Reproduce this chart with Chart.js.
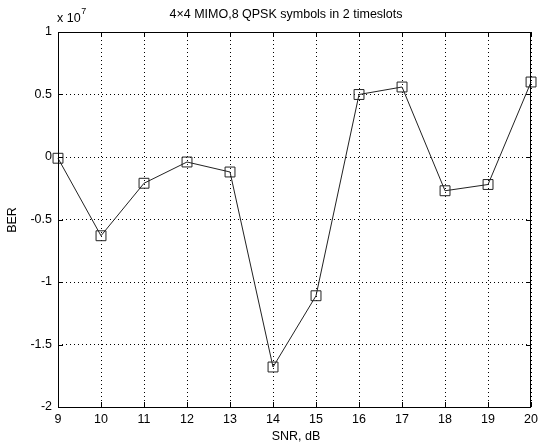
<!DOCTYPE html>
<html>
<head>
<meta charset="utf-8">
<script src="https://cdn.jsdelivr.net/npm/chart.js@4/dist/chart.umd.min.js"></script>
<style>
  html, body { margin: 0; padding: 0; background: #fff; }
  #wrap { width: 543px; height: 447px; position: relative; }
</style>
</head>
<body>
<div id="wrap"><canvas id="chart"></canvas></div>
<script>
// SNR points (dB) and BER values, in units of 1e7
const snrValues = [9, 10, 11, 12, 13, 14, 15, 16, 17, 18, 19, 20];
const berValues = [-0.01, -0.63, -0.21, -0.04, -0.12, -1.68, -1.11, 0.50, 0.56, -0.27, -0.22, 0.60];
const yTicks = [-2, -1.5, -1, -0.5, 0, 0.5, 1];
const xTicks = [9, 10, 11, 12, 13, 14, 15, 16, 17, 18, 19, 20];

const chartTitle = '4×4 MIMO,8 QPSK symbols in 2 timeslots';
const xTitle = 'SNR, dB';
const yTitle = 'BER';

const font = 'Liberation Sans, Arial, sans-serif';

// matlab style box, inward ticks and labels
const matlabFrame = {
    id: 'matlabFrame',
    beforeDraw(chart) {
        const c = chart.ctx;
        c.save();
        c.fillStyle = '#fff';
        c.fillRect(0, 0, chart.width, chart.height);
        c.restore();
    },
    afterDatasetsDraw(chart) {
        const c = chart.ctx;
        const a = chart.chartArea;
        const xs = chart.scales.x, ys = chart.scales.y;
        c.save();
        c.strokeStyle = '#000';
        c.lineWidth = 1;
        c.strokeRect(Math.round(a.left) + 0.5, Math.round(a.top) + 0.5,
            Math.round(a.right - a.left) - 1, Math.round(a.bottom - a.top));
        c.beginPath();
        xTicks.forEach(v => {
            const px = Math.round(xs.getPixelForValue(v)) + 0.5;
            c.moveTo(px, a.bottom); c.lineTo(px, a.bottom - 5);
            c.moveTo(px, a.top); c.lineTo(px, a.top + 5);
        });
        yTicks.forEach(v => {
            const py = Math.round(ys.getPixelForValue(v)) + 0.5;
            c.moveTo(a.left, py); c.lineTo(a.left + 5, py);
            c.moveTo(a.right, py); c.lineTo(a.right - 5, py);
        });
        c.stroke();

        c.fillStyle = '#000';
        c.font = '12.5px ' + font;
        c.textAlign = 'center';
        c.textBaseline = 'middle';
        c.fillText(chartTitle, 286, 15);
        c.fillText(xTitle, 296, 437);

        // exponent label
        c.textAlign = 'left';
        const w = c.measureText('x 10').width;
        c.fillText('x 10', 57, 19);
        c.font = '9px ' + font;
        c.fillText('7', 57 + w + 0.5, 12);

        c.font = '12.5px ' + font;
        c.translate(13, 220);
        c.rotate(-Math.PI / 2);
        c.textAlign = 'center';
        c.fillText(yTitle, 0, 0);
        c.restore();
    }
};

const ctx = document.getElementById('chart').getContext('2d');
new Chart(ctx, {
    type: 'line',
    data: {
        datasets: [{
            data: snrValues.map((x, i) => ({ x: x, y: berValues[i] })),
            borderColor: '#222',
            borderWidth: 1,
            pointStyle: 'rect',
            pointRadius: 7,
            pointHoverRadius: 7,
            pointBorderColor: '#222',
            pointBorderWidth: 1,
            pointBackgroundColor: 'rgba(0,0,0,0)',
            tension: 0,
            clip: false
        }]
    },
    options: {
        responsive: true,
        maintainAspectRatio: false,
        animation: false,
        events: [],
        layout: { padding: { top: 32, right: 3, left: 0, bottom: 0 } },
        plugins: { legend: { display: false }, title: { display: false }, tooltip: { enabled: false } },
        scales: {
            x: {
                type: 'linear',
                min: 9, max: 20,
                afterFit: s => { s.height = 40; },
                afterBuildTicks: s => { s.ticks = xTicks.map(v => ({ value: v })); },
                grid: { color: '#000', drawTicks: false, lineWidth: 1 },
                border: { display: false, dash: [1, 3] },
                ticks: { color: '#000', padding: 5, font: { family: font, size: 12.5 }, maxRotation: 0,
                    callback: v => String(v) }
            },
            y: {
                min: -2, max: 1,
                afterFit: s => { s.width = 58; },
                afterBuildTicks: s => { s.ticks = yTicks.map(v => ({ value: v })); },
                grid: { color: '#000', drawTicks: false, lineWidth: 1 },
                border: { display: false, dash: [1, 3] },
                ticks: { color: '#000', padding: 6, font: { family: font, size: 12.5 },
                    callback: v => String(v) }
            }
        }
    },
    plugins: [matlabFrame]
});
</script>
</body>
</html>
